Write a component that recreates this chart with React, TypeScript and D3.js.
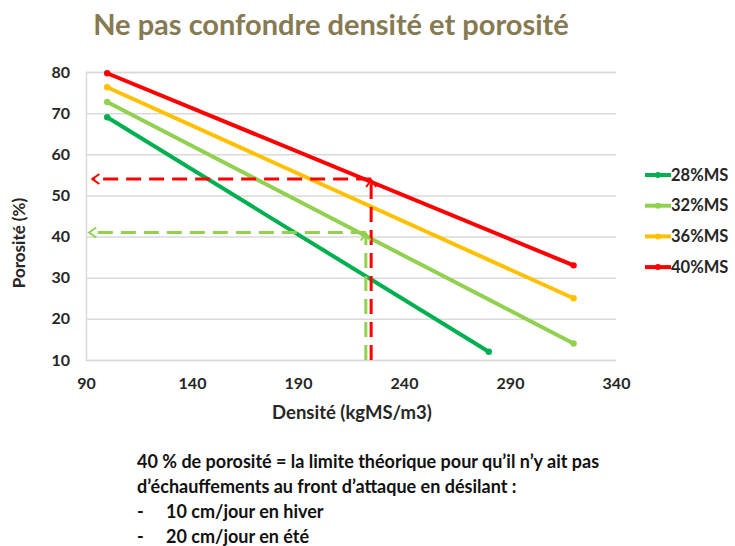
import { useEffect, useRef } from 'react';
import * as d3 from 'd3';

// ─── Données ──────────────────────────────────────────────────────────────
const seriesNames = ['28%MS', '32%MS', '36%MS', '40%MS'];
const seriesColors = ['#00b050', '#92d050', '#ffc000', '#ff0000'];
const densite = [
  [100, 280],
  [100, 320],
  [100, 320],
  [100, 320],
];
const porosite = [
  [69, 12],
  [72.7, 14],
  [76.3, 25],
  [79.7, 33],
];

const xTicks = [90, 140, 190, 240, 290, 340];
const yTicks = [10, 20, 30, 40, 50, 60, 70, 80];

// flèches pointillées : x de la verticale, y de l'horizontale, bout gauche
const arrowNames = ['40%MS', '32%MS'];
const arrowColors = ['#ff0000', '#92d050'];
const arrowX = [224.5, 222];
const arrowY = [54, 41];
const arrowLeftX = [93, 91.5];

const title = 'Ne pas confondre densité et porosité';
const noteLines = [
  '40 % de porosité = la limite théorique pour qu’il n’y ait pas',
  'd’échauffements au front d’attaque en désilant :',
];
const bullets = ['10 cm/jour en hiver', '20 cm/jour en été'];

const FONT = 'Lato, "Open Sans", sans-serif';

export default function App() {
  const svgRef = useRef<SVGSVGElement>(null);

  useEffect(() => {
    if (!svgRef.current) return;
    const W = 735;
    const H = 546;
    const m = { top: 72, left: 86, right: 119, bottom: 186 };

    const svg = d3.select(svgRef.current).attr('width', W).attr('height', H);
    svg.selectAll('*').remove();

    const x = d3.scaleLinear().domain([90, 340]).range([m.left, W - m.right]);
    const y = d3.scaleLinear().domain([10, 80]).range([H - m.bottom, m.top]);

    // ── Marqueurs de flèche ─────────────────────────────────────────────
    const defs = svg.append('defs');
    arrowColors.forEach((c, i) => {
      defs.append('marker')
        .attr('id', `arrow-${i}`)
        .attr('viewBox', '-10 -6 12 12')
        .attr('refX', 0).attr('refY', 0)
        .attr('markerWidth', 12).attr('markerHeight', 12)
        .attr('markerUnits', 'userSpaceOnUse')
        .attr('orient', 'auto')
        .append('path')
        .attr('d', 'M-7,-5 L0,0 L-7,5')
        .attr('fill', 'none')
        .attr('stroke', c)
        .attr('stroke-width', 2);
    });

    // ── Titre ───────────────────────────────────────────────────────────
    svg.append('text')
      .attr('x', 331).attr('y', 35)
      .attr('text-anchor', 'middle')
      .attr('font-family', FONT)
      .attr('font-weight', 700)
      .attr('font-size', 29)
      .attr('fill', '#867a52')
      .text(title);

    // ── Grille & axes ───────────────────────────────────────────────────
    const g = svg.append('g');
    g.append('g')
      .attr('transform', `translate(${m.left},0)`)
      .call(d3.axisLeft(y).tickValues(yTicks).tickSize(-(W - m.left - m.right)).tickPadding(16).tickFormat(d3.format('d')))
      .call(ax => ax.select('.domain').attr('stroke', '#d9d9d9').attr('stroke-width', 1.5))
      .call(ax => ax.selectAll('line').attr('stroke', '#d9d9d9').attr('stroke-width', 1.5))
      .call(ax => ax.selectAll('text')
        .attr('fill', '#262626').attr('font-size', 16).attr('font-weight', 700).attr('font-family', FONT));

    g.append('g')
      .attr('transform', `translate(0,${H - m.bottom})`)
      .call(d3.axisBottom(x).tickValues(xTicks).tickSize(0).tickPadding(18).tickFormat(d3.format('d')))
      .call(ax => ax.select('.domain').remove())
      .call(ax => ax.selectAll('text')
        .attr('fill', '#262626').attr('font-size', 16).attr('font-weight', 700).attr('font-family', FONT));

    // titres d'axes
    svg.append('text')
      .attr('x', 352).attr('y', 419)
      .attr('text-anchor', 'middle')
      .attr('font-family', FONT).attr('font-weight', 700).attr('font-size', 18.5)
      .attr('fill', '#262626')
      .text('Densité (kgMS/m3)');

    svg.append('text')
      .attr('transform', `translate(25,243) rotate(-90)`)
      .attr('text-anchor', 'middle')
      .attr('font-family', FONT).attr('font-weight', 700).attr('font-size', 17)
      .attr('fill', '#262626')
      .text('Porosité (%)');

    // ── Séries ──────────────────────────────────────────────────────────
    const line = d3.line<[number, number]>()
      .x(d => x(d[0]))
      .y(d => y(d[1]));

    seriesNames.forEach((name, i) => {
      const pts: [number, number][] = densite[i].map((d, j) => [d, porosite[i][j]]);
      g.append('path')
        .datum(pts)
        .attr('fill', 'none')
        .attr('stroke', seriesColors[i])
        .attr('stroke-width', 4)
        .attr('d', line);
      g.selectAll(null)
        .data(pts)
        .join('circle')
        .attr('cx', d => x(d[0]))
        .attr('cy', d => y(d[1]))
        .attr('r', 3.2)
        .attr('fill', seriesColors[i]);
    });

    // ── Flèches pointillées ─────────────────────────────────────────────
    arrowNames.forEach((_, i) => {
      const c = arrowColors[i];
      g.append('line')
        .attr('x1', x(arrowX[i])).attr('y1', y(10))
        .attr('x2', x(arrowX[i])).attr('y2', y(arrowY[i]) + 1)
        .attr('stroke', c).attr('stroke-width', 3)
        .attr('stroke-dasharray', '15 8')
        .attr('marker-end', `url(#arrow-${i})`);
      g.append('line')
        .attr('x1', x(arrowX[i])).attr('y1', y(arrowY[i]))
        .attr('x2', x(arrowLeftX[i])).attr('y2', y(arrowY[i]))
        .attr('stroke', c).attr('stroke-width', 3)
        .attr('stroke-dasharray', '15 8')
        .attr('marker-end', `url(#arrow-${i})`);
    });

    // ── Légende ─────────────────────────────────────────────────────────
    const legend = svg.append('g').attr('transform', 'translate(645,175)');
    seriesNames.forEach((name, i) => {
      const row = legend.append('g').attr('transform', `translate(0,${i * 30.7})`);
      row.append('line')
        .attr('x1', 0).attr('x2', 26)
        .attr('stroke', seriesColors[i]).attr('stroke-width', 4);
      row.append('circle').attr('cx', 13).attr('r', 3).attr('fill', seriesColors[i]);
      row.append('text')
        .attr('x', 26).attr('dy', '0.35em')
        .attr('font-family', FONT).attr('font-weight', 700).attr('font-size', 16.5)
        .attr('fill', '#262626')
        .text(name);
    });

    // ── Note ────────────────────────────────────────────────────────────
    const note = svg.append('g')
      .attr('font-family', FONT).attr('font-weight', 700).attr('font-size', 18)
      .attr('fill', '#111');
    noteLines.forEach((t, i) => {
      note.append('text').attr('x', 137).attr('y', 468 + i * 25).text(t);
    });
    bullets.forEach((t, i) => {
      note.append('text').attr('x', 137).attr('y', 518 + i * 25).text('-');
      note.append('text').attr('x', 166).attr('y', 518 + i * 25).text(t);
    });
  }, []);

  return (
    <div style={{ position: 'absolute', left: 0, top: 0, background: '#fff' }}>
      <svg ref={svgRef} />
    </div>
  );
}
